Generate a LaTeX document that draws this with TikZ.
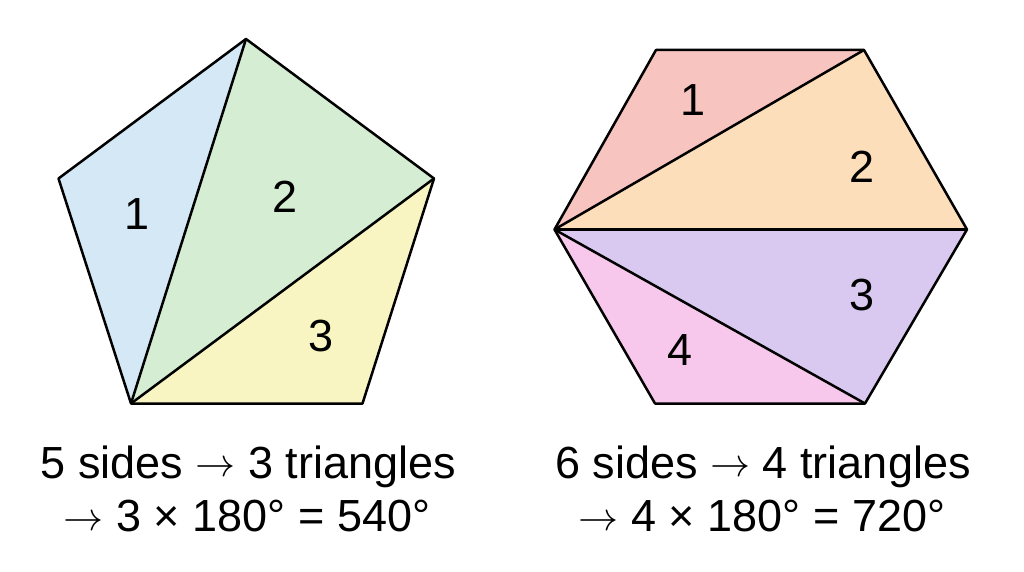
\documentclass[tikz,border=0pt]{standalone}
\usepackage{graphicx}
\usepackage{fontspec}
\setmainfont{Liberation Sans}
\definecolor{pblue}{HTML}{D4E8F5}
\definecolor{pgreen}{HTML}{D5EED3}
\definecolor{pyellow}{HTML}{F9F5C2}
\definecolor{hred}{HTML}{F8C4C0}
\definecolor{horange}{HTML}{FDDEBA}
\definecolor{hviolet}{HTML}{D9C9F1}
\definecolor{hpink}{HTML}{F7C7EC}
\newcommand\myarr{\raisebox{1.5pt}{\scalebox{4.0}{\fontsize{10}{12}\selectfont$\rightarrow$}}}
\tikzset{
  tri/.style={draw=black, line width=2.5pt, line join=round},
  num/.style={font=\fontsize{45}{54}\selectfont, inner sep=0pt},
  caption/.style={font=\fontsize{45}{54}\selectfont, anchor=base, inner sep=0pt},
}
\begin{document}
\begin{tikzpicture}[x=1pt,y=-1pt]
\useasboundingbox[fill=white] (0,0) rectangle (1024,572);
% pentagon
\coordinate (pT) at (246,39);
\coordinate (pL) at (58.5,178.5);
\coordinate (pR) at (434,178.5);
\coordinate (pBL) at (131,403.5);
\coordinate (pBR) at (362.5,403.5);
\fill[pblue] (pBL) -- (pL) -- (pT) -- cycle;
\fill[pgreen] (pBL) -- (pT) -- (pR) -- cycle;
\fill[pyellow] (pBL) -- (pR) -- (pBR) -- cycle;
\draw[tri] (pT) -- (pR) -- (pBR) -- (pBL) -- (pL) -- cycle;
\draw[tri] (pBL) -- (pT);
\draw[tri] (pBL) -- (pR);
\node[num] (p1) at (137,214) {1};
\node[num] (p2) at (285,197) {2};
\node[num] (p3) at (321.5,336.5) {3};
% hexagon
\coordinate (hTL) at (656,50);
\coordinate (hTR) at (864,50);
\coordinate (hR) at (967,229.5);
\coordinate (hBR) at (865,403.5);
\coordinate (hBL) at (655,403.5);
\coordinate (hL) at (554.5,229.5);
\fill[hred] (hL) -- (hTL) -- (hTR) -- cycle;
\fill[horange] (hL) -- (hTR) -- (hR) -- cycle;
\fill[hviolet] (hL) -- (hR) -- (hBR) -- cycle;
\fill[hpink] (hL) -- (hBR) -- (hBL) -- cycle;
\draw[tri] (hTL) -- (hTR) -- (hR) -- (hBR) -- (hBL) -- (hL) -- cycle;
\draw[tri] (hL) -- (hTR);
\draw[tri] (hL) -- (hR);
\draw[tri] (hL) -- (hBR);
\node[num] (h1) at (693,100) {1};
\node[num] (h2) at (861.5,166.5) {2};
\node[num] (h3) at (861.5,295) {3};
\node[num] (h4) at (680,350) {4};
% captions
\node[caption] (c1) at (248.5,478) {5 sides \myarr{} 3 triangles};
\node[caption] (c2) at (247,531.5) {\myarr{} 3 × 180° = 540°};
\node[caption] (c3) at (763,478) {6 sides \myarr{} 4 triangles};
\node[caption] (c4) at (762,531.5) {\myarr{} 4 × 180° = 720°};
\end{tikzpicture}
\end{document}
